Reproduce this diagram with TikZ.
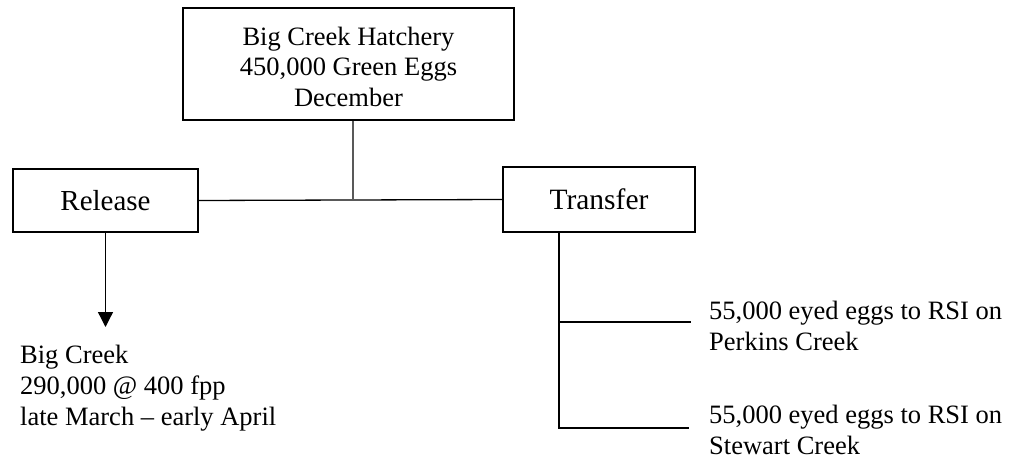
\documentclass[tikz,border=0pt]{standalone}
\usepackage{fontspec}
\setmainfont{Liberation Serif}
\usetikzlibrary{arrows.meta}
\begin{document}
\begin{tikzpicture}[x=1pt,y=-1pt,
  box/.style={draw=black, line width=1.6pt, inner sep=0pt, align=center},
  txt/.style={inner sep=0pt, align=left, anchor=north west, font=\fontsize{26.5}{31}\selectfont},
  link/.style={draw=black, line width=1.3pt}]
\useasboundingbox (0,0) rectangle (1020,460);
\node[box, minimum width=331pt, minimum height=112pt, font=\fontsize{26.5}{30.5}\selectfont] (hatch) at (348.5,64) {\rule{0pt}{24pt}Big Creek Hatchery\\450,000 Green Eggs\\December};
\node[box, minimum width=185pt, minimum height=63pt, font=\fontsize{29}{33}\selectfont] (rel) at (105.5,200.5) {Release};
\node[box, minimum width=192pt, minimum height=65pt, font=\fontsize{29.5}{33}\selectfont] (tr) at (599,199.5) {Transfer};
\node[txt] (bc) at (20,345) {Big Creek\\290,000 @ 400 fpp\\late March – early April};
\node[txt] (pk) at (709,300.5) {55,000 eyed eggs to RSI on\\Perkins Creek};
\node[txt] (sw) at (709,405) {55,000 eyed eggs to RSI on\\Stewart Creek};
\coordinate (jn) at (353,199.8);
\coordinate (relend) at (105.5,327);
\coordinate (j1) at (559,322);
\coordinate (e1) at (691,322);
\coordinate (tb) at (559,428);
\coordinate (e2) at (689,428);
\draw[link] (rel.east) -- (tr.west);
\draw[line width=1.3pt, draw=black!65] (hatch.south -| jn) -- (jn);
\draw[link, -{Triangle[length=15pt,width=15pt]}] (rel.south) -- (relend);
\draw[link] (tr.south -| tb) -- (tb) -- (e2);
\draw[link] (j1) -- (e1);
\end{tikzpicture}
\end{document}
